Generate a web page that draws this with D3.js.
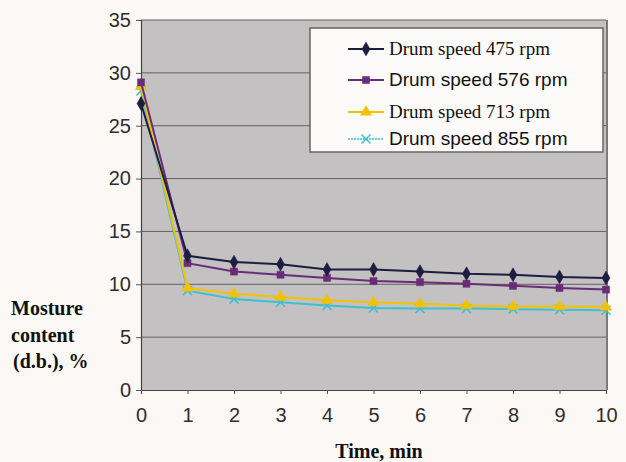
<!DOCTYPE html>
<html>
<head>
<meta charset="utf-8">
<script src="https://cdn.jsdelivr.net/npm/d3@7/dist/d3.min.js"></script>
<style>
  html, body { margin: 0; padding: 0; background: #fcf8f5; }
  svg { display: block; }
</style>
</head>
<body>
<svg id="chart" width="626" height="462"></svg>
<script>
// Drying time (min) and moisture content (d.b., %) at four drum speeds
const timeMin = [0, 1, 2, 3, 4, 5, 6, 7, 8, 9, 10];
const rpm475 = [27.1, 12.7, 12.1, 11.9, 11.4, 11.4, 11.2, 11.0, 10.9, 10.7, 10.6];
const rpm576 = [29.1, 12.0, 11.2, 10.9, 10.6, 10.3, 10.2, 10.05, 9.85, 9.65, 9.5];
const rpm713 = [28.7, 9.65, 9.1, 8.8, 8.5, 8.3, 8.15, 8.0, 7.9, 7.9, 7.85];
const rpm855 = [28.3, 9.4, 8.6, 8.3, 8.0, 7.75, 7.7, 7.7, 7.65, 7.6, 7.55];
const yTicks = [0, 5, 10, 15, 20, 25, 30, 35];
const xTicks = [0, 1, 2, 3, 4, 5, 6, 7, 8, 9, 10];
const seriesNames = ["Drum speed 475 rpm", "Drum speed 576 rpm", "Drum speed 713 rpm", "Drum speed 855 rpm"];

const series = [
  { name: seriesNames[0], values: rpm475, color: "#1d1d40", marker: "diamond", font: "'Liberation Serif', 'Times New Roman', serif", dash: null },
  { name: seriesNames[1], values: rpm576, color: "#6a2c78", marker: "square", font: "'Liberation Sans', Arial, sans-serif", dash: null },
  { name: seriesNames[2], values: rpm713, color: "#f2c200", marker: "triangle", font: "'Liberation Serif', 'Times New Roman', serif", dash: null },
  { name: seriesNames[3], values: rpm855, color: "#3fc0d2", marker: "cross", font: "'Liberation Sans', Arial, sans-serif", dash: "2,1" }
];

const svg = d3.select("#chart");
const plot = { left: 141, right: 606, top: 20, bottom: 390 };

const x = d3.scaleLinear().domain([0, 10]).range([plot.left, plot.right]);
const y = d3.scaleLinear().domain([0, 35]).range([plot.bottom, plot.top]);

// Plot area background
svg.append("rect")
  .attr("x", plot.left).attr("y", plot.top)
  .attr("width", plot.right - plot.left).attr("height", plot.bottom - plot.top)
  .attr("fill", "#c3c1c1");

// Horizontal gridlines
svg.append("g").selectAll("line")
  .data(yTicks.filter(d => d > 0))
  .join("line")
  .attr("x1", plot.left).attr("x2", plot.right)
  .attr("y1", d => y(d)).attr("y2", d => y(d))
  .attr("stroke", "#626262").attr("stroke-width", 1);

// Right frame shadow
svg.append("line")
  .attr("x1", plot.right + 1).attr("x2", plot.right + 1)
  .attr("y1", plot.top).attr("y2", plot.bottom)
  .attr("stroke", "#7a7a7a").attr("stroke-width", 2);

// Axes
const yAxis = d3.axisLeft(y).tickValues(yTicks).tickSize(5).tickPadding(5);
const xAxis = d3.axisBottom(x).tickValues(xTicks).tickSize(4).tickPadding(14);

const gy = svg.append("g").attr("transform", `translate(${plot.left},0)`).call(yAxis);
const gx = svg.append("g").attr("transform", `translate(0,${plot.bottom})`).call(xAxis);

[gy, gx].forEach(g => {
  g.select(".domain").attr("stroke", "#444").attr("stroke-width", 1.2);
  g.selectAll(".tick line").attr("stroke", "#555");
  g.selectAll(".tick text")
    .attr("fill", "#2e2e2e")
    .style("font-family", "'Liberation Sans', Arial, sans-serif")
    .style("font-size", "20px");
});

// Marker shapes
const symbolFor = {
  diamond: d3.symbol().type(d3.symbolDiamond).size(55),
  square: d3.symbol().type(d3.symbolSquare).size(50),
  triangle: d3.symbol().type(d3.symbolTriangle).size(55),
  cross: d3.symbol().type(d3.symbolX).size(55)
};

const line = d3.line()
  .x((d, i) => x(timeMin[i]))
  .y(d => y(d));

// Draw series back to front so the 475 rpm curve sits on top
[...series].reverse().forEach(s => {
  const g = svg.append("g");
  g.append("path")
    .attr("d", line(s.values))
    .attr("fill", "none")
    .attr("stroke", s.color)
    .attr("stroke-width", 2);
  g.selectAll("path.m")
    .data(s.values)
    .join("path")
    .attr("class", "m")
    .attr("transform", (d, i) => `translate(${x(timeMin[i])},${y(d)})`)
    .attr("d", symbolFor[s.marker])
    .attr("fill", s.color)
    .attr("stroke", s.color)
    .attr("stroke-width", s.marker === "cross" ? 1.5 : 0.5);
});

// Legend
const legend = svg.append("g");
legend.append("rect")
  .attr("x", 310).attr("y", 28).attr("width", 293).attr("height", 124)
  .attr("fill", "#fdfafa").attr("stroke", "#666").attr("stroke-width", 1.5);

const legendY = [49, 80, 112, 139];
series.forEach((s, i) => {
  const ly = legendY[i];
  legend.append("line")
    .attr("x1", 348).attr("x2", 384).attr("y1", ly).attr("y2", ly)
    .attr("stroke", s.color).attr("stroke-width", s.marker === "cross" ? 1.5 : 2)
    .attr("stroke-dasharray", s.dash);
  legend.append("path")
    .attr("transform", `translate(366,${ly})`)
    .attr("d", symbolFor[s.marker])
    .attr("fill", s.color).attr("stroke", s.color)
    .attr("stroke-width", s.marker === "cross" ? 1.5 : 0.5);
  legend.append("text")
    .attr("x", 389).attr("y", ly + 6)
    .attr("fill", "#111")
    .style("font-family", s.font)
    .style("font-size", "19px")
    .text(s.name);
});

// Axis titles
const titleFont = "'Liberation Serif', 'Times New Roman', serif";
const yTitle = svg.append("text")
  .attr("fill", "#111")
  .style("font-family", titleFont)
  .style("font-size", "20px")
  .style("font-weight", "bold");
[["Mosture", 11, 315], ["content", 11, 342], ["(d.b.), %", 13, 368]].forEach(([t, tx, ty]) => {
  yTitle.append("tspan").attr("x", tx).attr("y", ty).text(t);
});

svg.append("text")
  .attr("x", 379).attr("y", 458)
  .attr("text-anchor", "middle")
  .attr("fill", "#111")
  .style("font-family", titleFont)
  .style("font-size", "20px")
  .style("font-weight", "bold")
  .text("Time, min");
</script>
</body>
</html>
